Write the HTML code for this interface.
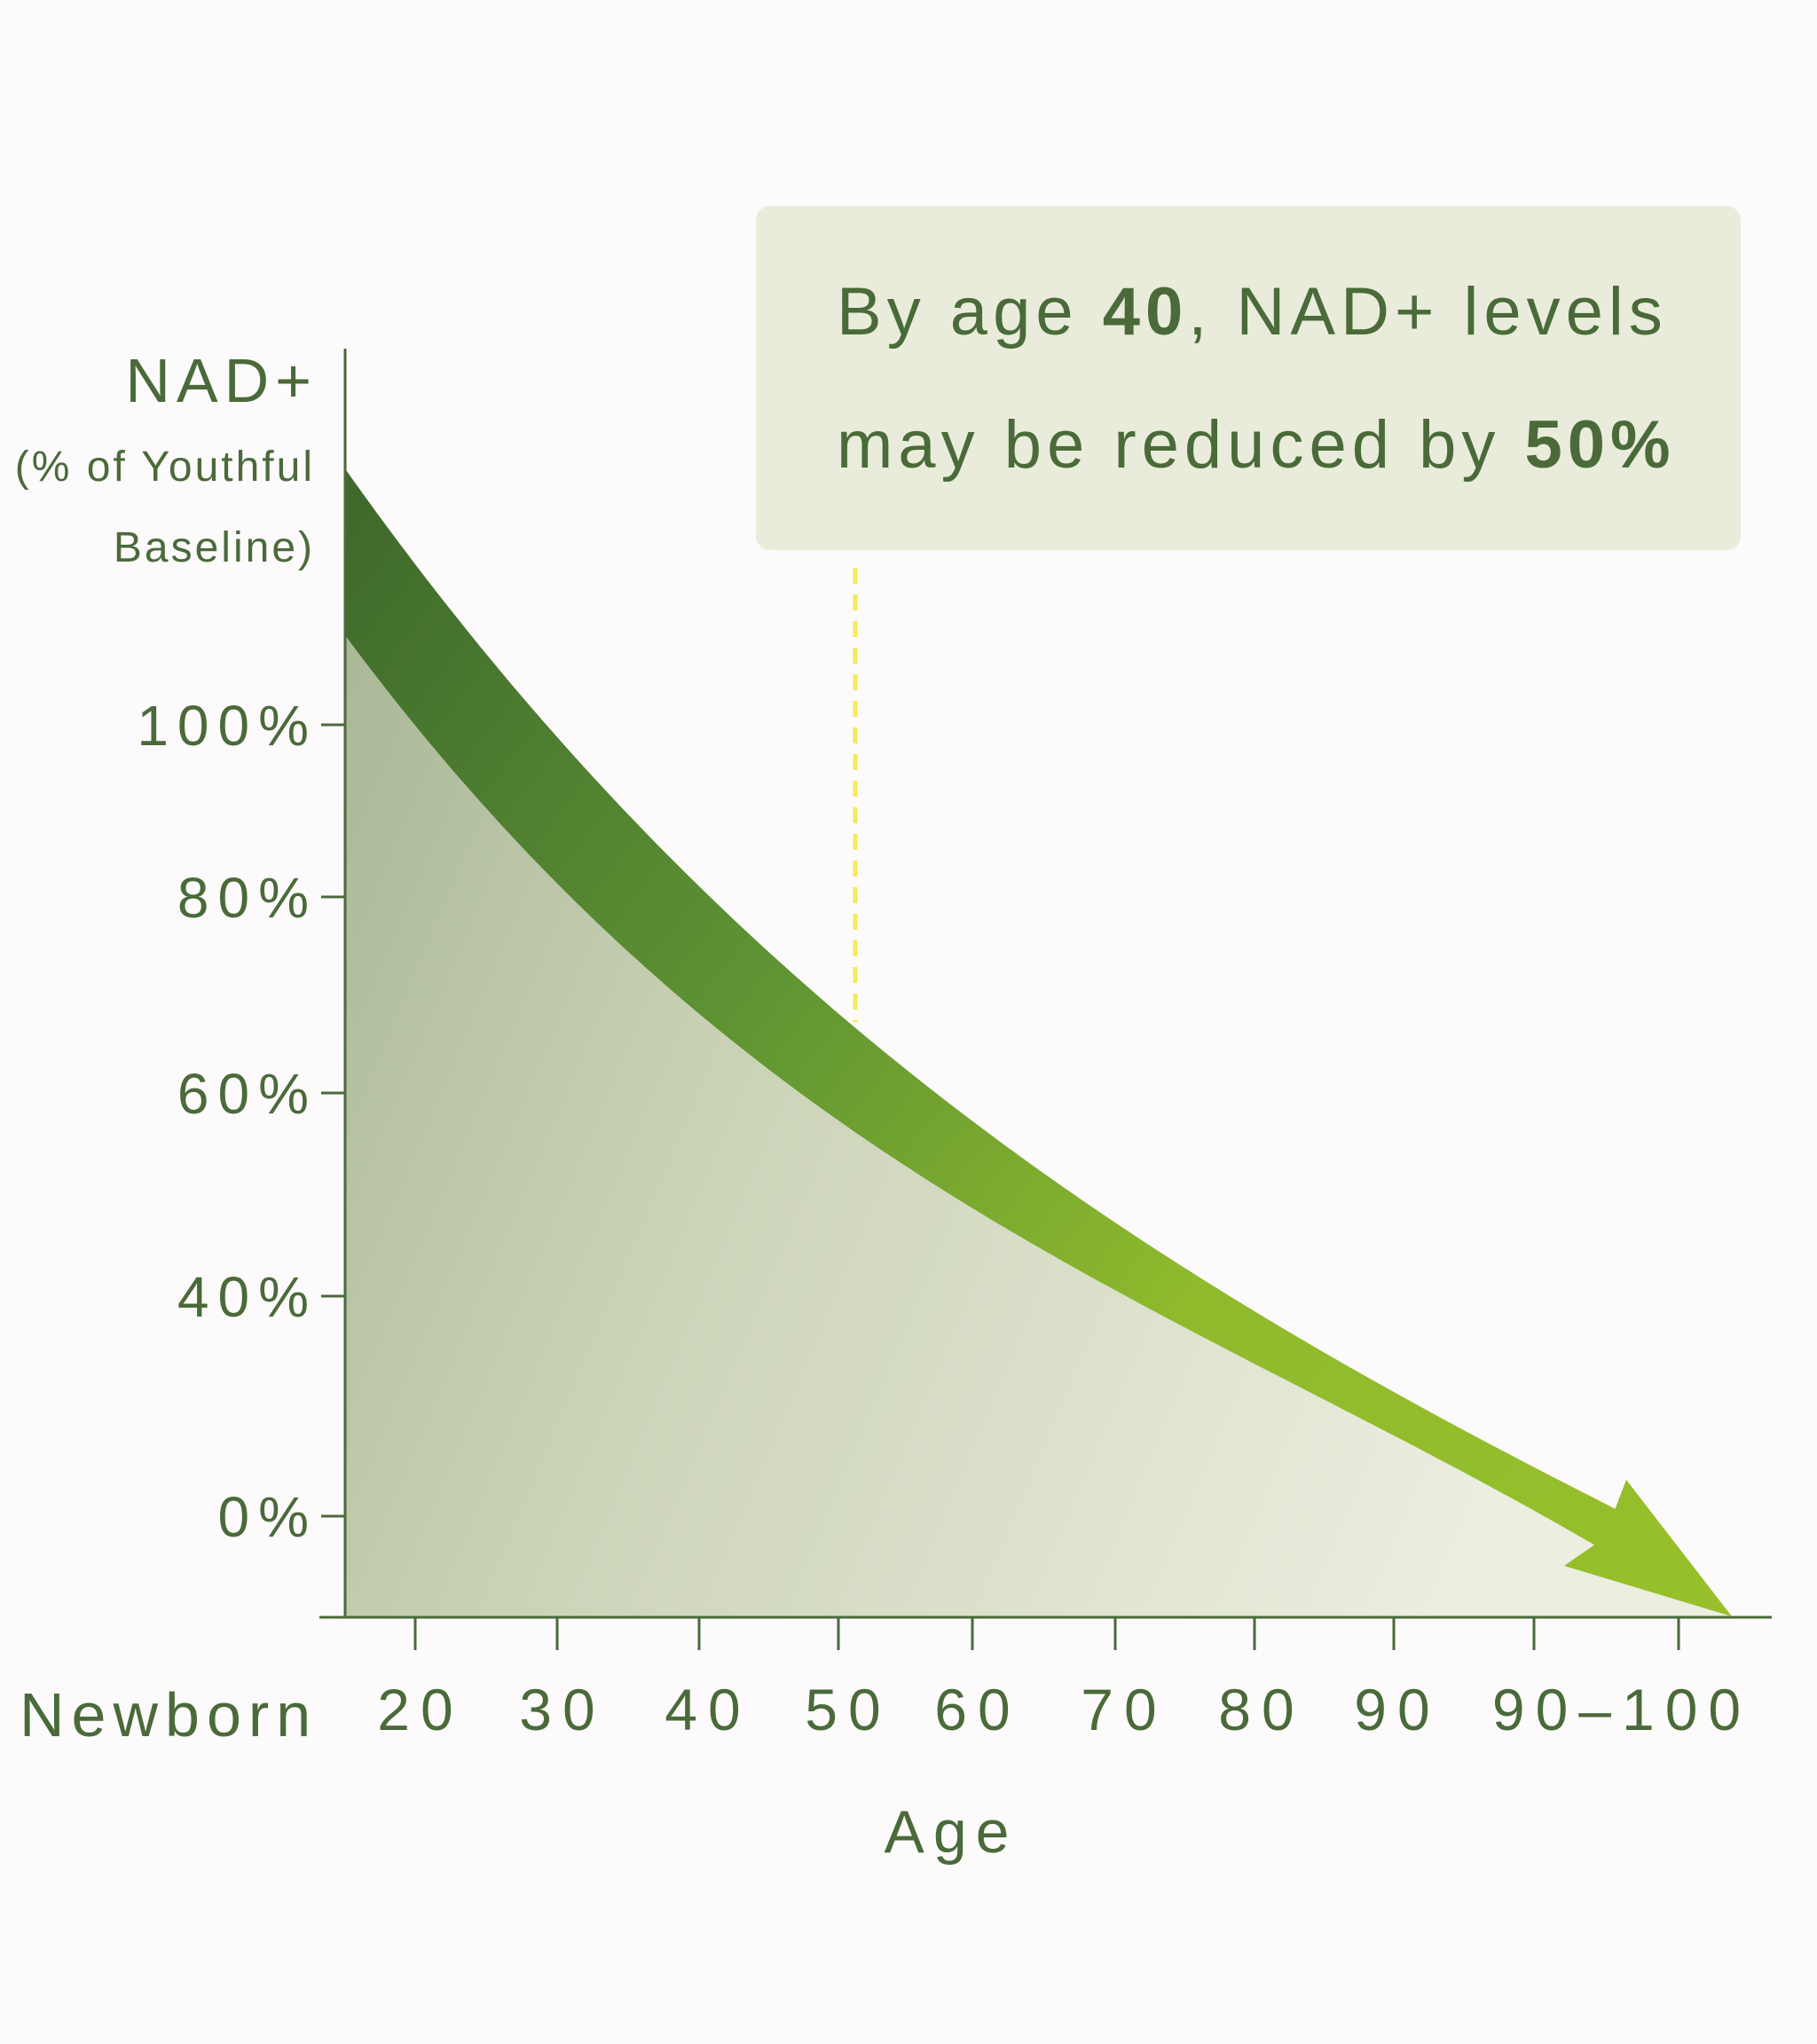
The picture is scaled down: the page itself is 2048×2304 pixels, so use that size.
<!DOCTYPE html>
<html><head><meta charset="utf-8"><style>
html,body{margin:0;padding:0;background:#fcfafb;}
svg{display:block;}
text{font-family:"Liberation Sans",sans-serif;fill:#4a6a3a;}
</style></head><body>
<svg width="2048" height="2304" viewBox="0 0 2048 2304">
<defs>
<linearGradient id="area" x1="0" y1="0" x2="1" y2="0.3">
<stop offset="0" stop-color="#a9b896"/><stop offset="0.4" stop-color="#ccd4b8"/><stop offset="1" stop-color="#eceee0"/>
</linearGradient>
<linearGradient id="arr" x1="389" y1="600" x2="1950" y2="1800" gradientUnits="userSpaceOnUse">
<stop offset="0" stop-color="#3f6a2c"/><stop offset="0.35" stop-color="#5f9433"/><stop offset="0.65" stop-color="#8fba2c"/><stop offset="1" stop-color="#97c02a"/>
</linearGradient>
</defs>
<rect width="2048" height="2304" fill="#fcfafb"/>
<path id="areaPath" fill="url(#area)"/>
<path id="arrowPath" fill="url(#arr)"/>
<line x1="964" y1="640" x2="964" y2="1152" stroke="#f3ea5a" stroke-width="5" stroke-dasharray="18,12"/>
<line x1="389" y1="393" x2="389" y2="1823" stroke="#4a6a3a" stroke-width="3"/>
<line x1="360" y1="1823" x2="1997" y2="1823" stroke="#4a6a3a" stroke-width="3"/>
<g stroke="#4a6a3a" stroke-width="3">
<line x1="362" y1="817" x2="389" y2="817"/><line x1="362" y1="1011" x2="389" y2="1011"/>
<line x1="362" y1="1232" x2="389" y2="1232"/><line x1="362" y1="1461" x2="389" y2="1461"/>
<line x1="362" y1="1709" x2="389" y2="1709"/>
<line x1="468" y1="1823" x2="468" y2="1860"/><line x1="628" y1="1823" x2="628" y2="1860"/>
<line x1="788" y1="1823" x2="788" y2="1860"/><line x1="945" y1="1823" x2="945" y2="1860"/>
<line x1="1096" y1="1823" x2="1096" y2="1860"/><line x1="1257" y1="1823" x2="1257" y2="1860"/>
<line x1="1414" y1="1823" x2="1414" y2="1860"/><line x1="1571" y1="1823" x2="1571" y2="1860"/>
<line x1="1729" y1="1823" x2="1729" y2="1860"/><line x1="1892" y1="1823" x2="1892" y2="1860"/>
</g>
<g font-size="64" text-anchor="end" letter-spacing="10">
<text x="358" y="840">100%</text><text x="358" y="1034">80%</text>
<text x="358" y="1255">60%</text><text x="358" y="1484">40%</text><text x="358" y="1732">0%</text>
</g>
<text x="358" y="453" font-size="70" text-anchor="end" letter-spacing="7">NAD+</text>
<text x="355" y="542" font-size="48" text-anchor="end" letter-spacing="3">(% of Youthful</text>
<text x="355" y="633" font-size="48" text-anchor="end" letter-spacing="3">Baseline)</text>
<g font-size="66" text-anchor="middle" letter-spacing="12">
<text x="474" y="1950">20</text><text x="634" y="1950">30</text><text x="798" y="1950">40</text>
<text x="956" y="1950">50</text><text x="1102" y="1950">60</text><text x="1267" y="1950">70</text>
<text x="1422" y="1950">80</text><text x="1575" y="1950">90</text><text x="1828" y="1950">90–100</text>
</g>
<text x="22" y="1957" font-size="70" letter-spacing="8">Newborn</text>
<text x="1072" y="2088" font-size="68" text-anchor="middle" letter-spacing="10">Age</text>
<rect x="852" y="232" width="1110" height="388" rx="16" fill="#e9ecda"/>
<text x="943" y="377" font-size="76" letter-spacing="6">By age <tspan font-weight="bold">40</tspan>, NAD+ levels</text>
<text x="943" y="527" font-size="76" letter-spacing="6">may be reduced by <tspan font-weight="bold">50%</tspan></text>
</svg>
<script>
var S=1.467;
function up(t){return 360+1010*(1-Math.exp(-0.0014*t))+47*Math.pow(t/977,3);}
function lo(t){return 488+750*(1-Math.exp(-0.0018*t))+83*Math.pow(t/962,4);}
var U=[],L=[],t;
for(t=0;t<=977;t+=8){U.push([(265+t)*S,up(t)*S]);}
for(t=0;t<=962;t+=8){L.push([(265+t)*S,lo(t)*S]);}
function pts(a){return a.map(function(p){return p[0].toFixed(1)+","+p[1].toFixed(1);}).join(" L");}
var Lr=L.slice().reverse();
document.getElementById('arrowPath').setAttribute('d',"M"+pts(U)+" L1833,1668 L1952,1822 L1763,1765 L"+pts(Lr)+" Z");
document.getElementById('areaPath').setAttribute('d',"M"+pts(L)+" L1763,1765 L1952,1822 L389,1822 Z");
</script>
</body></html>
